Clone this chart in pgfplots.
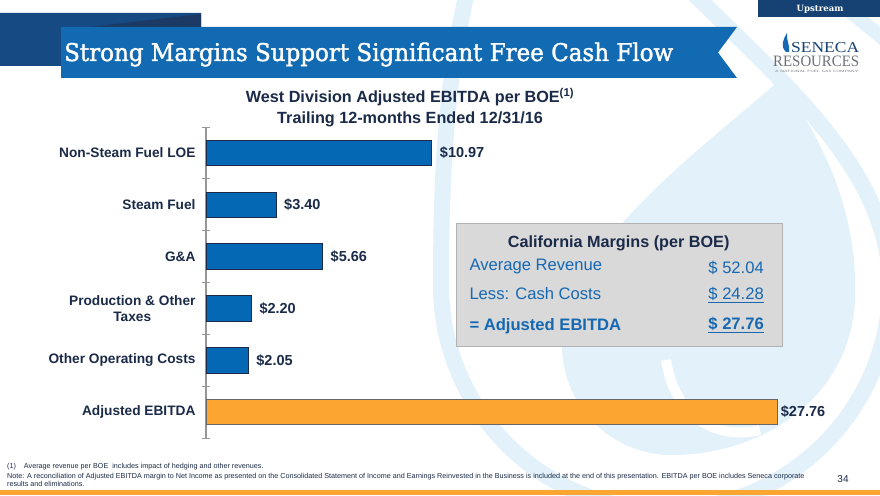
\documentclass[border=0pt]{standalone}
\usepackage{pgfplots}
\pgfplotsset{compat=1.18}
\usepackage{fontspec}
\usepackage{graphicx}
\setmainfont{Liberation Sans}
\newfontfamily\slab{DejaVu Serif}
\newfontfamily\slabmed[FakeBold=1.6]{DejaVu Serif}
\newfontfamily\logofont{Liberation Serif}
\definecolor{barblue}{RGB}{4,104,180}
\definecolor{barorange}{RGB}{252,165,48}
\definecolor{navytext}{RGB}{26,42,72}
\definecolor{bannerblue}{RGB}{18,106,178}
\definecolor{darkblock}{RGB}{22,74,130}
\definecolor{darkerblock}{RGB}{28,58,100}
\definecolor{boxgray}{RGB}{217,217,217}
\definecolor{boxblue}{RGB}{22,104,178}
\definecolor{wm}{RGB}{226,241,250}
\definecolor{tabnavy}{RGB}{22,66,115}
\definecolor{axisgray}{RGB}{150,150,150}
\definecolor{logogray}{RGB}{110,112,120}
\begin{document}
\begin{tikzpicture}[x=1pt,y=1pt]
\begin{scope}[shift={(0,495)}, y=-1pt]
\path[use as bounding box, fill=white] (0,0) rectangle (880,495);
\begin{scope}
\clip (0,0) rectangle (880,495);
% watermark flame
\fill[wm] (562,345) .. controls (562,406) and (611,455) .. (672,455) .. controls (760,455) and (850,400) .. (855,300) .. controls (858,220) and (830,150) .. (780,80) .. controls (700,150) and (562,250) .. (562,345) -- cycle;
\draw[white, line width=10] (666,360) .. controls (675,420) and (720,440) .. (760,430);
\draw[wm, line width=16] (690,-10) .. controls (780,80) and (890,170) .. (890,285) .. controls (890,409) and (789,510) .. (665,510) .. controls (541,510) and (441,409) .. (441,285) .. controls (441,180) and (445,80) .. (470,-20);
\draw[wm, line width=14] (830,-5) -- (885,40);
\end{scope}
% top-left dark block
\fill[darkblock] (0,13) -- (201,13) -- (201,27) -- (61,27) -- (61,66) -- (0,66) -- cycle;
\fill[darkerblock] (90,27) -- (201,14) -- (201,27) -- cycle;
% banner
\fill[bannerblue] (61,27) -- (737,27) -- (718,52.5) -- (737,78) -- (61,78) -- cycle;
\node[anchor=base west, inner sep=0, text=white] at (64,61) {\resizebox{609pt}{18.5pt}{\slabmed Strong Margins Support Significant Free Cash Flow}};
% upstream tab
\fill[tabnavy] (758,0) rectangle (880,17);
\node[anchor=base, inner sep=0, text=white] at (820,12) {\resizebox{47pt}{!}{\slab\bfseries Upstream}};
% logo
\fill[boxblue] (786,52) .. controls (780,46) and (783,40) .. (787,33) .. controls (786,40) and (790,44) .. (789,52) -- cycle;
\node[anchor=base west, inner sep=0, text=tabnavy] at (791,52.5) {\resizebox{68pt}{10pt}{\logofont SENECA}};
\node[anchor=base west, inner sep=0, text=logogray] at (773,67) {\resizebox{86pt}{10.5pt}{\logofont RESOURCES}};
\node[anchor=base west, inner sep=0, text=logogray] at (775,73) {\resizebox{83pt}{2.2pt}{\sffamily A NATIONAL FUEL GAS COMPANY}};
% chart title
\node[anchor=base, inner sep=0, text=navytext, font=\bfseries\fontsize{16.2}{19}\selectfont] at (410,102.7) {West Division Adjusted EBITDA per BOE\textsuperscript{(1)}};
\node[anchor=base, inner sep=0, text=navytext, font=\bfseries\fontsize{16.2}{19}\selectfont] at (410,123.7) {Trailing 12-months Ended 12/31/16};
% footer
\node[anchor=base west, inner sep=0, text=navytext, font=\fontsize{7.2}{8}\selectfont] at (7,468.3) {(1)\hspace{8pt}Average revenue per BOE\ \ includes impact of hedging and other revenues.};
\node[anchor=base west, inner sep=0, text=navytext, font=\fontsize{7.2}{8}\selectfont] at (7,478.3) {Note: A reconciliation of Adjusted EBITDA margin to Net Income as presented on the Consolidated Statement of Income and Earnings Reinvested in the Business is included at the end of this presentation. EBITDA per BOE includes Seneca corporate};
\node[anchor=base west, inner sep=0, text=navytext, font=\fontsize{7.2}{8}\selectfont] at (7,486.5) {results and eliminations.};
\node[anchor=base, inner sep=0, text=navytext, font=\fontsize{10}{12}\selectfont] at (843,482) {34};
\fill[barorange] (0,489.5) rectangle (880,495);
\end{scope}

\begin{axis}[
  at={(206pt,57pt)}, anchor=south west,
  scale only axis, width=572pt, height=311pt,
  xmin=0, xmax=27.8, ymin=-0.5, ymax=5.5, y dir=reverse,
  clip=false,
  hide x axis,
  axis y line*=left,
  y axis line style={axisgray, line width=1.3pt},
  xbar, bar width=25.5pt, bar shift=0pt,
  ytick={0,1,2,3,4,5},
  yticklabels={Non-Steam Fuel LOE, Steam Fuel, G\&A, {Production \& Other\\Taxes}, Other Operating Costs, Adjusted EBITDA},
  major tick length=0pt,
  minor ytick={-0.5,0.5,1.5,2.5,3.5,4.5,5.5},
  minor tick length=8pt,
  tick align=center,
  every minor tick/.style={axisgray, line width=1pt},
  yticklabel style={align=center, text=navytext, font=\bfseries\fontsize{13.7}{16}\selectfont, xshift=-7pt},
  point meta=x,
  /pgf/number format/assume math mode=true,
  nodes near coords={\$\pgfmathprintnumber[fixed,fixed zerofill,precision=2]{\pgfplotspointmeta}},
  every node near coord/.append style={text=navytext, font=\bfseries\fontsize{14.5}{17}\selectfont, anchor=west},
]
\addplot[fill=barblue, draw=navytext, line width=0.8pt, every node near coord/.append style={xshift=4.5pt}] coordinates {(10.97,0) (3.40,1) (5.66,2) (2.20,3) (2.05,4)};
\addplot[fill=barorange, draw=black!60, line width=0.8pt, every node near coord/.append style={xshift=0pt}] coordinates {(27.76,5)};
\end{axis}

\begin{scope}[shift={(0,495)}, y=-1pt]
% California box
\filldraw[fill=boxgray, draw=black!30, line width=0.8pt] (456,223.5) rectangle (782,346);
\node[anchor=base, inner sep=0, text=navytext, font=\bfseries\fontsize{16.2}{19}\selectfont] at (618.7,247.3) {California Margins (per BOE)};
\node[anchor=base west, inner sep=0, text=boxblue, font=\fontsize{16.6}{19}\selectfont] at (469.3,271) {Average Revenue};
\node[anchor=base east, inner sep=0, text=boxblue, font=\fontsize{16.6}{19}\selectfont] at (764,273.3) {\$ 52.04};
\node[anchor=base west, inner sep=0, text=boxblue, font=\fontsize{16.6}{19}\selectfont] at (469.3,300) {Less: Cash Costs};
\node[anchor=base east, inner sep=0, text=boxblue, font=\fontsize{16.6}{19}\selectfont] at (764,300) {\underline{\$ 24.28}};
\node[anchor=base west, inner sep=0, text=boxblue, font=\bfseries\fontsize{16.6}{19}\selectfont] at (469.3,331) {= Adjusted EBITDA};
\node[anchor=base east, inner sep=0, text=boxblue, font=\bfseries\fontsize{16.6}{19}\selectfont] at (764,329.3) {\underline{\$ 27.76}};
\end{scope}
\end{tikzpicture}
\end{document}
